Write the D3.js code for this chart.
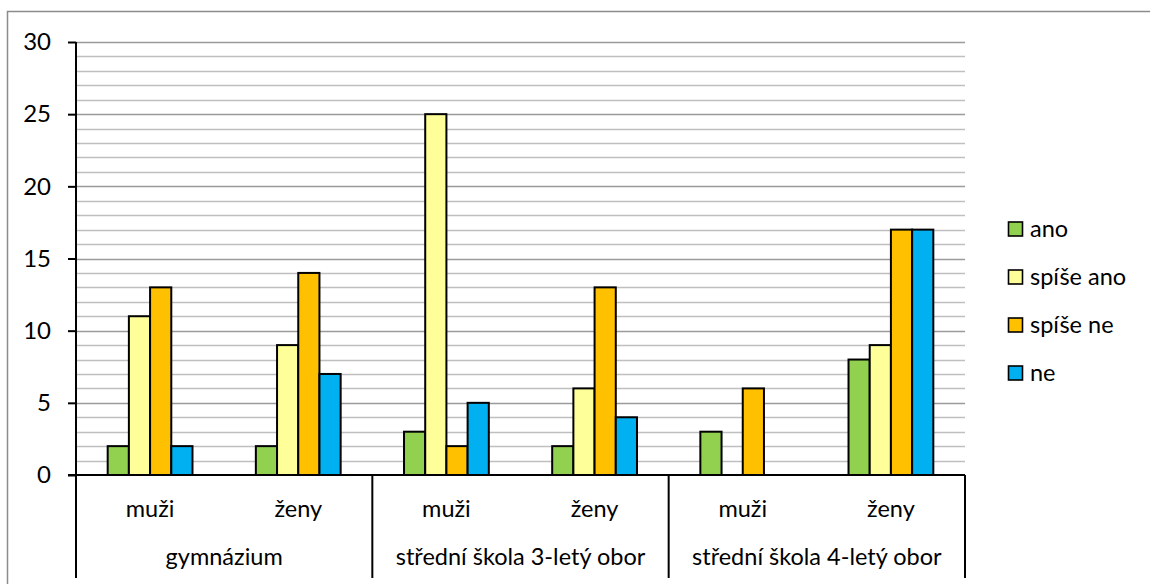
<!DOCTYPE html>
<html>
<head>
<meta charset="utf-8">
<script src="https://cdn.jsdelivr.net/npm/d3@7/dist/d3.min.js"></script>
<style>
  html, body { margin: 0; padding: 0; background: #fff; }
  svg { display: block; font-family: "Lato", "Liberation Sans", sans-serif; }
</style>
</head>
<body>
<svg id="chart" width="1150" height="584"></svg>
<script>
// Groups (school type) and sub-categories (gender)
const groups = ["gymnázium", "střední škola 3-letý obor", "střední škola 4-letý obor"];
const genders = ["muži", "ženy"];
const seriesNames = ["ano", "spíše ano", "spíše ne", "ne"];
const seriesColors = ["#92D050", "#FFFF99", "#FFC000", "#00B0F0"];

// Counts per series, in order: gym muži, gym ženy, 3-letý muži, 3-letý ženy, 4-letý muži, 4-letý ženy
const ano      = [2, 2, 3, 2, 3, 8];
const spiseAno = [11, 9, 25, 6, 0, 9];
const spiseNe  = [13, 14, 2, 13, 6, 17];
const ne       = [2, 7, 5, 4, 0, 17];
const yTicks = [0, 5, 10, 15, 20, 25, 30];

const seriesValues = [ano, spiseAno, spiseNe, ne];
const categories = [];
groups.forEach(g => genders.forEach(s => categories.push(g + "|" + s)));

const svg = d3.select("#chart");
const plot = { left: 76, right: 965, top: 42, bottom: 475 };
const axisBottom = 578;
const fontSize = 23.5;

// chart area frame (top and left edges)
svg.append("path")
  .attr("d", "M7.5,584 V11.5 H1150")
  .attr("fill", "none").attr("stroke", "#8c8c8c").attr("stroke-width", 1.5);

const x = d3.scaleBand().domain(categories).range([plot.left, plot.right]).paddingInner(0).paddingOuter(0);
const y = d3.scaleLinear().domain([0, 30]).range([plot.bottom, plot.top]);
// bars occupy the central part of each category band
const barW = 21.2;
const clusterW = barW * seriesNames.length;

// gridlines (minor every 1, major every 5)
const grid = svg.append("g");
d3.range(1, 31).forEach(v => {
  const major = v % 5 === 0;
  grid.append("line")
    .attr("x1", plot.left).attr("x2", plot.right)
    .attr("y1", Math.round(y(v)) + 0.5).attr("y2", Math.round(y(v)) + 0.5)
    .attr("stroke", major ? "#9a9a9a" : "#bfbfbf")
    .attr("stroke-width", 1.6);
});

// bars
const bars = svg.append("g");
categories.forEach((c, ci) => {
  const cx = x(c) + x.bandwidth() / 2;
  seriesNames.forEach((s, si) => {
    const v = seriesValues[si][ci];
    if (v <= 0) return;
    const bx = cx - clusterW / 2 + si * barW;
    bars.append("rect")
      .attr("x", bx).attr("y", y(v))
      .attr("width", barW).attr("height", y(0) - y(v))
      .attr("fill", seriesColors[si])
      .attr("stroke", "#000").attr("stroke-width", 2);
  });
});

// y axis
const yAxis = d3.axisLeft(y).tickValues(yTicks).tickSize(8).tickPadding(17);
const yg = svg.append("g").attr("transform", `translate(${plot.left},0)`).call(yAxis);
yg.select(".domain").remove();
yg.selectAll(".tick line").attr("stroke", "#000").attr("stroke-width", 2);
yg.selectAll(".tick text").attr("font-size", 24).attr("fill", "#000")
  .attr("font-family", "Lato, 'Liberation Sans', sans-serif");
svg.append("line")
  .attr("x1", plot.left).attr("x2", plot.left)
  .attr("y1", plot.top).attr("y2", axisBottom)
  .attr("stroke", "#000").attr("stroke-width", 2);

// x axis baseline
svg.append("line")
  .attr("x1", plot.left - 8).attr("x2", plot.right)
  .attr("y1", plot.bottom).attr("y2", plot.bottom)
  .attr("stroke", "#000").attr("stroke-width", 2);

// group separators
groups.forEach(g => {
  const xr = x(g + "|" + genders[genders.length - 1]) + x.bandwidth();
  svg.append("line")
    .attr("x1", xr).attr("x2", xr)
    .attr("y1", plot.bottom).attr("y2", axisBottom)
    .attr("stroke", "#000").attr("stroke-width", 2);
});

// gender labels
categories.forEach(c => {
  svg.append("text")
    .attr("x", x(c) + x.bandwidth() / 2).attr("y", 517)
    .attr("text-anchor", "middle").attr("font-size", fontSize).attr("fill", "#000")
    .text(c.split("|")[1]);
});
// group labels
groups.forEach(g => {
  const x0 = x(g + "|" + genders[0]);
  const x1 = x(g + "|" + genders[genders.length - 1]) + x.bandwidth();
  svg.append("text")
    .attr("x", (x0 + x1) / 2).attr("y", 565)
    .attr("text-anchor", "middle").attr("font-size", fontSize).attr("fill", "#000")
    .text(g);
});

// legend
const legend = svg.append("g");
const legendY = d3.scalePoint().domain(seriesNames).range([229, 373]);
seriesNames.forEach((s, si) => {
  const ly = legendY(s);
  legend.append("rect")
    .attr("x", 1008.5).attr("y", ly - 7).attr("width", 14).attr("height", 14)
    .attr("fill", seriesColors[si]).attr("stroke", "#000").attr("stroke-width", 1.6);
  legend.append("text")
    .attr("x", 1030).attr("y", ly + 7.5)
    .attr("font-size", fontSize).attr("fill", "#000").text(s);
});
</script>
</body>
</html>
